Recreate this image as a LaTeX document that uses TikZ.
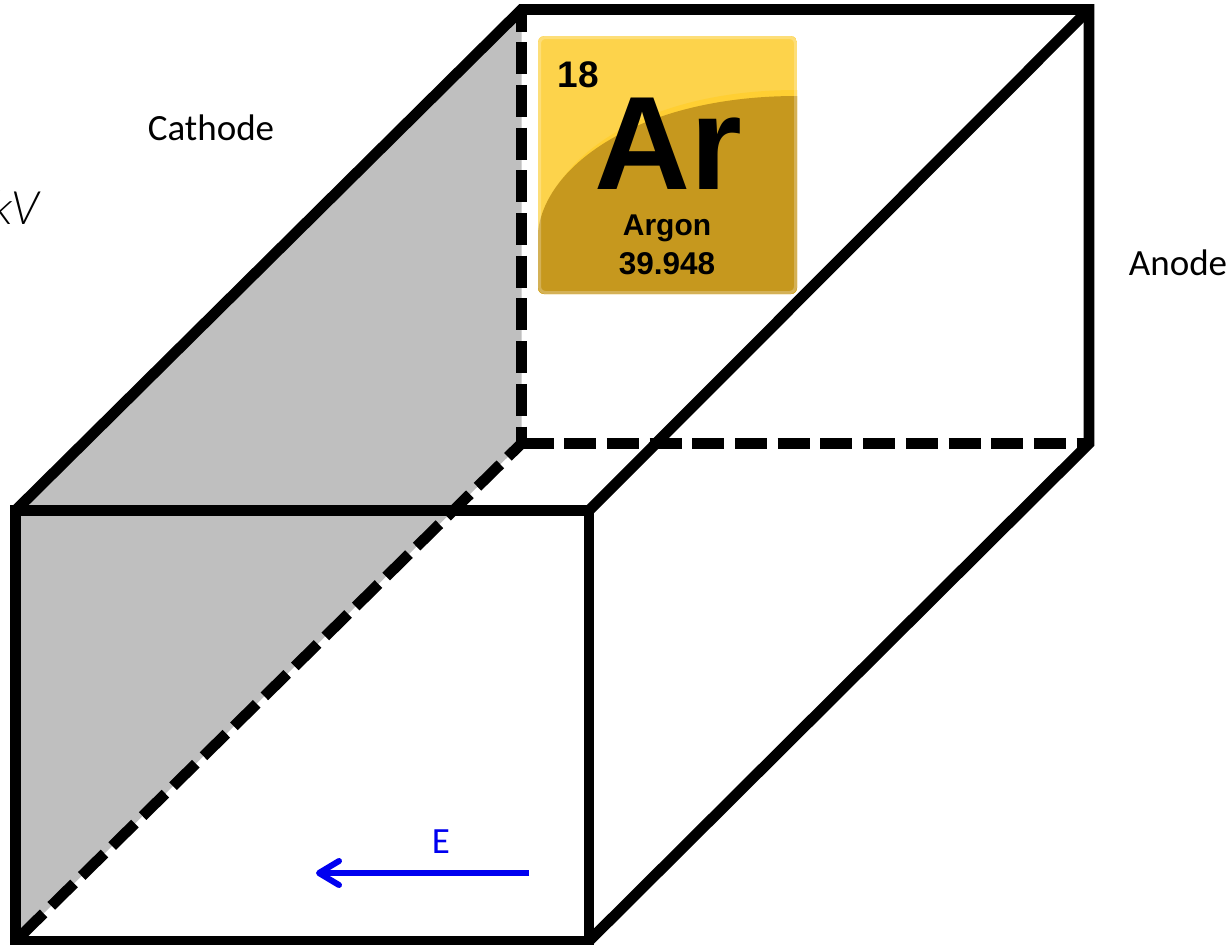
\documentclass[tikz,border=0pt]{standalone}
\usepackage{fontspec}
\setmainfont{Carlito}
\newfontfamily\cardfont{Liberation Sans}[BoldFont={Liberation Sans Bold}]
\newfontfamily\lightfont{Lato Light}
\usetikzlibrary{arrows.meta}
\definecolor{cathodegray}{HTML}{BFBFBF}
\definecolor{cardlight}{HTML}{FDD34B}
\definecolor{carddark}{HTML}{C6981E}
\definecolor{cardglow}{HTML}{FFCF33}
\definecolor{fieldblue}{HTML}{0000F0}
\tikzset{
  edgeline/.style={draw=black,line width=10.8pt,miter limit=10,line join=miter},
  hiddenline/.style={edgeline,dash pattern=on 32pt off 10.7pt},
  label/.style={inner sep=0pt,font=\fontsize{37}{40}\selectfont},
  cardtext/.style={inner sep=0pt,text=black},
}
\begin{document}
\begin{tikzpicture}[x=1pt,y=-1pt]
\useasboundingbox[fill=white] (0,0) rectangle (1229,945);
% corners
\coordinate (ftl) at (15.5,510.5);
\coordinate (ftr) at (589,510.5);
\coordinate (fbr) at (589,941);
\coordinate (fbl) at (15.5,941);
\coordinate (btl) at (521.5,9.5);
\coordinate (btr) at (1089,9.5);
\coordinate (bbr) at (1089,443.5);
\coordinate (bbl) at (521.5,443.5);
% cathode
\fill[cathodegray] (ftl) -- (btl) -- (bbl) -- (fbl) -- cycle;
% hidden edges
\draw[hiddenline,dash phase=10pt] (btl) -- (bbl);
\draw[hiddenline] (bbl) -- (bbr);
\draw[hiddenline,dash phase=13pt] (bbl) -- (fbl);
% visible edges
\draw[edgeline] (ftl) -- (ftr) -- (fbr) -- (fbl) -- cycle;
\draw[edgeline] (ftl) -- (btl) -- (btr) -- (bbr) -- (fbr);
\draw[edgeline] (ftr) -- (btr);
% element card
\begin{scope}
  \clip[rounded corners=6pt] (538,36) rectangle (797,294);
  \fill[cardlight] (538,36) rectangle (797,294);
  \fill[cardglow] (538,240) .. controls (545,160) and (640,90) .. (797,90) -- (797,294) -- (538,294) -- cycle;
  \fill[carddark] (538,232) .. controls (545,165) and (640,96) .. (797,96) -- (797,294) -- (538,294) -- cycle;
\end{scope}
\draw[white,opacity=.25,line width=3pt,rounded corners=6pt] (539.5,37.5) rectangle (795.5,292.5);
\node[cardtext,font=\cardfont\bfseries\fontsize{37}{37}\selectfont] (num) at (578,75) {18};
\node[cardtext,font=\cardfont\bfseries\fontsize{133}{133}\selectfont] (sym) at (668,144) {Ar};
\node[cardtext,font=\cardfont\bfseries\fontsize{30}{30}\selectfont] (nam) at (667,228) {Argon};
\node[cardtext,font=\cardfont\bfseries\fontsize{31.5}{32}\selectfont] (mass) at (667,264) {39.948};
% labels
\node[label] (cathode) at (211,128) {Cathode};
\node[label] (anode) at (1178,263) {Anode};
\begin{scope}
  \clip (0,0) rectangle (1229,945);
  \node[inner sep=0pt,anchor=east,font=\lightfont\itshape\fontsize{46}{48}\selectfont] (volt) at (40,208) {kV};
\end{scope}
% field
\coordinate (estart) at (529,873);
\coordinate (eend) at (316,873);
\draw[fieldblue,line width=6pt,-{Straight Barb[length=20pt,width=24pt,round,line width=6pt]}] (estart) -- (eend);
\node[label,text=fieldblue] (e) at (441,842) {E};
\end{tikzpicture}
\end{document}
